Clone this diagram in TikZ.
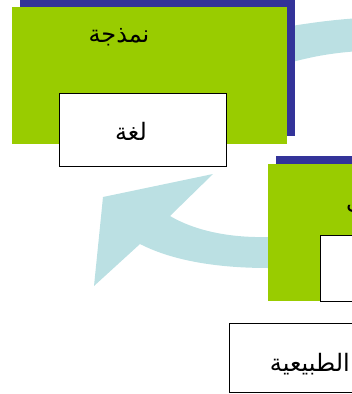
\documentclass[tikz,border=0pt]{standalone}
\usepackage{fontspec}
\newfontfamily\arabicfont[Script=Arabic]{DejaVu Sans}
\TeXXeTstate=1
\definecolor{boxgreen}{HTML}{99CC00}
\definecolor{boxblue}{HTML}{333399}
\definecolor{arrowcyan}{HTML}{BBE0E3}
\tikzset{
  shadowbox/.style={fill=boxblue, draw=none, anchor=north west, inner sep=0pt},
  greenbox/.style={fill=boxgreen, draw=none, anchor=north west, inner sep=0pt},
  whitebox/.style={fill=white, draw=black, line width=1.3pt, anchor=north west, inner sep=0pt},
  artext/.style={font=\arabicfont\fontsize{24}{28}\selectfont, inner sep=0pt, text=black},
}
\begin{document}
\begin{tikzpicture}[x=1pt,y=-1pt]
\useasboundingbox (0,0) rectangle (352,394);
% cyan arrows
\fill[arrowcyan] (285,27) .. controls (310,23) and (330,20) .. (360,18)
  -- (360,51) .. controls (330,53) and (310,57) .. (285,64) -- cycle;
\fill[arrowcyan] (290,237) -- (268,237) .. controls (225,238) and (192,229) .. (170,216)
  -- (213,174) -- (103,197) -- (94,286) -- (140,244)
  .. controls (175,262) and (222,268) .. (268,268) -- (290,268) -- cycle;
% box 1
\node[shadowbox, minimum width=275pt, minimum height=137pt] (s1) at (20,-1) {};
\node[greenbox, minimum width=275pt, minimum height=137pt] (g1) at (12,7) {};
\node[artext] (t1) at (119,37) {\beginR نمذجة\endR};
\node[whitebox, minimum width=167pt, minimum height=73.5pt] (w1) at (58.5,92.5) {};
\node[artext] (t2) at (131,131) {\beginR لغة\endR};
% box 2
\node[shadowbox, minimum width=100pt, minimum height=137pt] (s2) at (276,156) {};
\node[greenbox, minimum width=100pt, minimum height=137pt] (g2) at (268,164) {};
\node[artext, anchor=west] (t3) at (346,206) {\beginR تركيب\endR};
\node[whitebox, minimum width=60pt, minimum height=66pt] (w2) at (320,235) {};
% bottom box
\node[whitebox, minimum width=150pt, minimum height=69pt] (w3) at (229,323) {};
\node[artext, anchor=east] (t4) at (350,364) {\beginR الطبيعية\endR};
\end{tikzpicture}
\end{document}
